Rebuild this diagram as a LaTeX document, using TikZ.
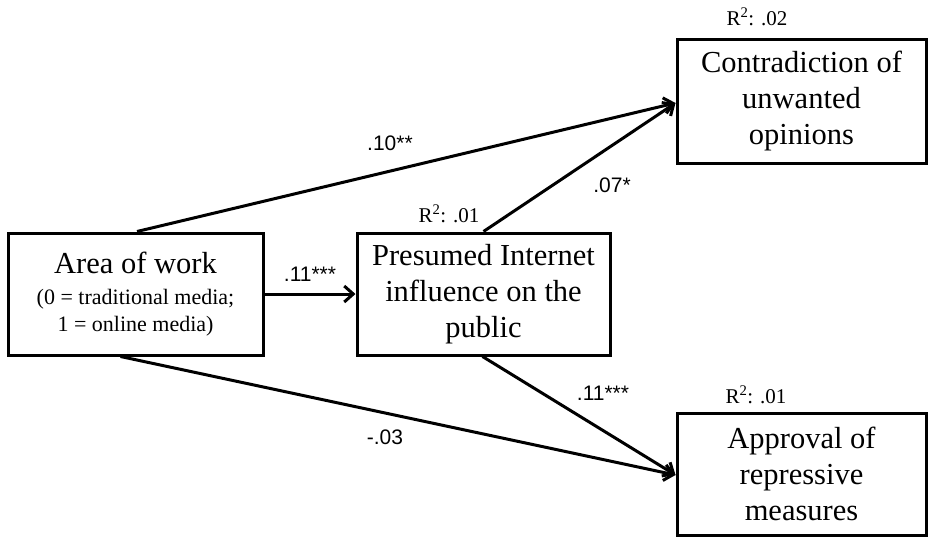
\documentclass[tikz,border=0pt]{standalone}
\usepackage{fontspec}
\setmainfont{Liberation Serif}
\newfontfamily\arialfont{Liberation Sans}
\usetikzlibrary{arrows.meta,calc}
\begin{document}
\begin{tikzpicture}[x=1pt,y=-1pt,
  box/.style={draw,line width=3pt,rectangle,align=center,inner sep=0pt,
    font=\fontsize{30.5}{36}\selectfont},
  conn/.style={line width=3pt,-{Straight Barb[length=9pt,width=16pt,line width=3pt]}},
  coef/.style={font=\arialfont\fontsize{21}{24}\selectfont,inner sep=0pt},
  rsq/.style={font=\fontsize{21}{24}\selectfont,inner sep=0pt}]
\useasboundingbox (0,0) rectangle (929,536);
\node[box,minimum width=255pt,minimum height=122pt] (area) at (135.5,294)
  {Area of work\\[-5pt]{\fontsize{22}{27}\selectfont (0 = traditional media;}\\[-9pt]{\fontsize{22}{27}\selectfont 1 = online media)}};
\node[box,minimum width=253pt,minimum height=122pt] (pres) at (483.5,294)
  {Presumed Internet\\influence on the\\public};
\node[box,minimum width=249pt,minimum height=124pt] (contra) at (801.5,101)
  {Contradiction of\\unwanted\\opinions};
\node[box,minimum width=249pt,minimum height=122pt] (appr) at (801.5,474)
  {Approval of\\repressive\\measures};
\draw[conn] ($(area.north)+(1.5,0)$) -- ($(contra.west)+(0,2)$);
\draw[conn] (pres.north) -- ($(contra.west)+(0,2)$);
\draw[conn] (area.east) -- (pres.west);
\draw[conn] ($(area.south)+(-15,0)$) -- ($(appr.west)+(0,1)$);
\draw[conn] ($(pres.south)+(-1,0)$) -- ($(appr.west)+(0,1)$);
\node[coef] (c1) at (390,143) {.10**};
\node[coef] (c2) at (612,185) {.07*};
\node[coef] (c3) at (310,274) {.11***};
\node[coef] (c4) at (603,393) {.11***};
\node[coef] (c5) at (385,437) {-.03};
\node[rsq] (r1) at (449,214) {R\textsuperscript{2}: .01};
\node[rsq] (r2) at (757,17) {R\textsuperscript{2}: .02};
\node[rsq] (r3) at (756,395) {R\textsuperscript{2}: .01};
\end{tikzpicture}
\end{document}
